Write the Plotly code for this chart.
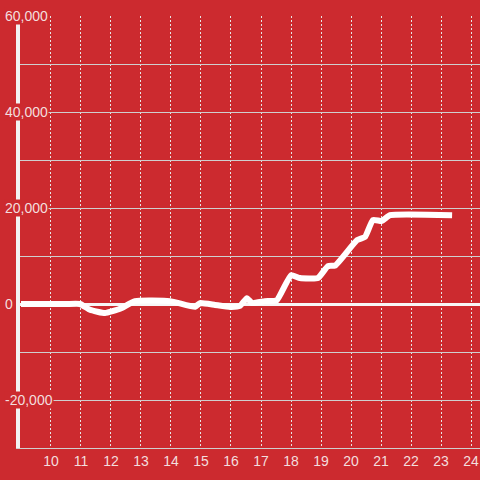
import plotly.graph_objects as go

x_vals = [9.0, 10.5, 10.97, 11.3, 11.8, 12.3, 12.8, 13.97, 14.8, 14.97, 15.47, 15.97, 16.3, 16.53, 16.7,
          17.13, 17.53, 18.0, 18.3, 18.9, 19.23, 19.47, 20.2, 20.47, 20.73, 21.03, 21.3, 23.37]
y_vals = [0, 0, 0, -1200, -1900, -1000, 600, 600, -600, 200, -200, -600, -400, 1200, 200,
          600, 800, 6000, 5400, 5400, 7900, 8000, 13300, 14000, 17500, 17300, 18500, 18500]
y_tick_vals = [-20000, 0, 20000, 40000, 60000]
y_tick_text = ["-20,000", "0", "20,000", "40,000", "60,000"]
x_tick_vals = list(range(10, 25))

BG = "#cc2a2f"
fig = go.Figure()
fig.add_trace(go.Scatter(x=x_vals, y=y_vals, mode="lines",
                         line=dict(color="white", width=6, shape="spline", smoothing=0.4),
                         hoverinfo="skip"))

for v, t in zip(y_tick_vals, y_tick_text):
    fig.add_annotation(x=0, xref="paper", xshift=-16, y=v, yref="y", text=t, showarrow=False,
                       xanchor="left", yanchor="middle", bgcolor=BG, borderpad=0,
                       font=dict(family="Liberation Sans, Arial", size=14, color="#f3dede"))

fig.update_layout(
    width=480, height=480, margin=dict(l=20, r=0, t=16, b=32),
    paper_bgcolor=BG, plot_bgcolor=BG, showlegend=False,
    xaxis=dict(range=[8.967, 24.3], tickvals=x_tick_vals, showgrid=True,
               gridcolor="#e6e6e6", griddash="2px,2px", gridwidth=1,
               showline=True, linecolor="#cfcfcf", linewidth=1, ticks="",
               zeroline=False,
               tickfont=dict(family="Liberation Sans, Arial", size=14, color="#f3dede")),
    yaxis=dict(range=[-30000, 60000.1], dtick=10000, showticklabels=False,
               showgrid=True, gridcolor="#cfcfcf", gridwidth=1,
               zeroline=True, zerolinecolor="#f7f7f7", zerolinewidth=3,
               showline=True, linecolor="#f2f2f2", linewidth=4, ticks=""),
)
fig.write_html("out.html", config={"displayModeBar": False},
               post_script="document.body.style.margin='0';document.body.style.overflow='hidden';")
